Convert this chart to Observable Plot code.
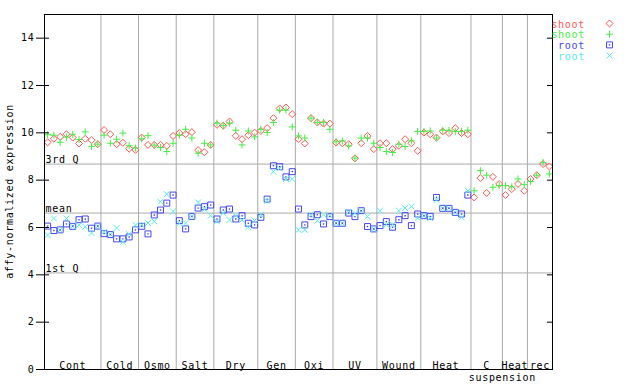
<!DOCTYPE html>
<html><head><meta charset="utf-8">
<script src="https://cdn.jsdelivr.net/npm/d3@7"></script>
<script src="https://cdn.jsdelivr.net/npm/@observablehq/plot@0.6"></script>
<style>body{margin:0;background:#fff} svg{display:block}</style>
</head><body><div id="chart"></div>
<script>
const groups = ["Cont","Cold","Osmo","Salt","Dry","Gen","Oxi","UV","Wound","Heat","C","Heat","rec"];
const groupSizes = [9,6,6,6,7,6,6,7,7,8,5,4,4];
const extraLabel = "suspension";
const yTitle = "affy-normalized expression";
const yTicks = [0,2,4,6,8,10,12,14];
const refLines = [8.68, 6.61, 4.08];
const refLabels = ["3rd Q","mean","1st Q"];
const seriesNames = ["shoot","shoot","root","root"];

const shootRep1 = [
 9.60,9.75,9.83,9.94,9.80,9.55,9.75,9.69,9.52,
 10.12,9.94,9.52,9.58,9.33,9.28,
 9.80,9.49,9.49,9.49,9.45,9.87,
 9.99,9.94,10.03,9.27,9.18,9.49,
 10.34,10.30,10.48,9.87,9.73,9.90,10.01,
 10.08,10.20,10.62,11.03,11.07,10.79,
 9.73,9.55,10.62,10.44,10.39,10.39,
 9.59,9.56,9.52,8.92,9.56,9.87,9.31,
 9.56,9.56,9.31,9.45,9.73,9.56,9.24,
 10.01,9.94,9.80,10.06,9.99,10.20,9.99,9.94,
 7.27,8.09,7.46,8.14,7.84,
 7.37,7.62,7.84,7.55,
 8.05,8.21,8.68,8.58];
const shootRep2 = [
 9.92,9.90,9.60,9.82,9.94,9.72,10.04,9.43,9.52,
 9.90,9.56,9.73,9.99,9.46,9.36,
 9.75,9.88,9.48,9.38,9.21,9.56,
 9.90,10.15,9.78,9.14,9.56,9.49,
 10.41,10.30,10.41,10.11,9.49,10.08,9.83,
 10.15,10.01,10.44,10.96,10.96,10.25,
 9.87,9.78,10.62,10.44,10.44,10.15,
 9.62,9.66,9.45,8.93,9.78,9.78,9.56,
 9.38,9.21,9.17,9.52,9.42,9.66,10.06,
 10.06,10.08,9.78,10.11,10.11,10.06,10.06,10.11,
 7.55,8.40,8.21,7.70,7.77,
 7.77,7.72,8.05,7.81,
 7.95,8.21,8.75,8.26];
const rootRep1 = [
 6.06,5.87,5.90,6.15,6.05,6.33,6.36,5.97,6.06,
 5.74,5.70,5.52,5.52,5.60,5.90,
 6.05,5.73,6.53,6.74,7.03,7.37,
 6.29,5.94,6.47,6.82,6.88,6.95,
 6.36,6.74,6.78,6.36,6.50,6.18,6.11,
 6.43,7.20,8.61,8.57,8.14,8.36,
 6.78,6.11,6.46,6.54,6.15,6.46,
 6.18,6.18,6.61,6.46,6.71,6.04,5.94,
 6.08,6.25,6.01,6.33,6.50,6.08,6.57,
 6.50,6.47,7.27,6.81,6.81,6.64,6.57,7.37];
const rootRep2 = [
 5.68,6.38,5.90,6.38,6.05,6.10,6.03,5.77,6.05,
 5.82,5.71,5.98,5.39,5.72,6.10,
 6.10,6.19,6.26,7.09,7.41,6.68,
 6.17,6.19,6.47,7.06,6.78,6.50,
 6.26,6.61,6.32,6.50,6.32,6.01,6.29,
 6.54,7.13,8.36,8.50,8.05,8.05,
 5.90,5.90,6.54,6.29,6.54,6.50,
 6.18,6.18,6.64,6.60,6.71,6.46,5.94,
 6.71,6.12,6.12,6.71,6.82,6.89,6.40,
 6.50,6.40,7.16,6.81,6.81,6.64,6.43,7.55];

const colors = ["#ff5555","#44ee44","#4646f0","#55eeee"];
const symbols = ["diamond2","plus","square2","times"];
const radii = [3.15,2.4,3.8,2.8];

const nSlots = d3.sum(groupSizes);
const bounds = Array.from(d3.cumsum(groupSizes));
const inner = bounds.slice(0,-1);
const centers = groupSizes.map((s,k) => bounds[k] - s/2);
const rows = arr => arr.map((v,i) => ({i: i + 0.5, v}));
const series = [shootRep1, shootRep2, rootRep1, rootRep2].map(rows);

const chart = Plot.plot({
  width: 640, height: 384,
  marginLeft: 44, marginRight: 88, marginTop: 14, marginBottom: 15,
  x: {domain: [0, nSlots], axis: null},
  y: {domain: [0, 15], axis: null},
  style: {fontFamily: "'DejaVu Sans Mono', monospace", fontSize: "10px", letterSpacing: "0.7px", background: "#fff", color: "#000", overflow: "visible"},
  marks: [
    Plot.ruleX(inner, {stroke: "#aaa"}),
    Plot.ruleY(refLines, {stroke: "#aaa"}),
    Plot.text(refLines, {x: 0, y: d => d, text: (d,i) => refLabels[i], textAnchor: "start", lineAnchor: "bottom", dx: 1, dy: -1, fill: "#000"}),
    Plot.text(groups, {x: (d,i) => centers[i], y: 0, text: d => d, lineAnchor: "bottom", dy: -1, fill: "#000"}),
    Plot.text([extraLabel], {x: bounds[10], y: 0, text: d => d, lineAnchor: "top", dy: 4, fill: "#000"}),
    ...series.map((s,k) => Plot.dot(s, {x: "i", y: "v", symbol: symbols[k], r: radii[k], stroke: colors[k], strokeWidth: 1, fill: "none"})),
    Plot.dot(series[2], {x: "i", y: "v", symbol: "square", r: 0.8, fill: colors[2]}),
    Plot.frame({stroke: "#000"}),
    Plot.axisY(yTicks, {anchor: "left", tickSize: 8, tickPadding: 2, label: null}),
    Plot.ruleY(yTicks, {x1: 0, x2: 0.8, stroke: "#000"}),
    Plot.ruleY(yTicks, {x1: nSlots - 0.8, x2: nSlots, stroke: "#000"})
  ]
});
document.getElementById("chart").appendChild(chart);

const svg = d3.select(chart);
svg.append("text")
  .attr("transform", "translate(13,191.5) rotate(-90)")
  .attr("text-anchor", "middle")
  .attr("fill", "#000")
  .text(yTitle);
const d3sym = {diamond2: d3.symbolDiamond2, plus: d3.symbolPlus, square2: d3.symbolSquare2, times: d3.symbolTimes};
const lg = svg.append("g");
seriesNames.forEach((name, k) => {
  lg.append("text").attr("x", 585).attr("y", 27.5 + k * 10.7)
    .attr("text-anchor", "end").attr("fill", colors[k]).text(name);
  lg.append("path").attr("transform", `translate(609.5,${23.5 + k * 10.7})`)
    .attr("d", d3.symbol(d3sym[symbols[k]], Math.PI * radii[k] * radii[k])())
    .attr("fill", "none").attr("stroke", colors[k]);
  if (k === 2) lg.append("rect").attr("x", 608.8).attr("y", 22.8 + k * 10.7).attr("width", 1.4).attr("height", 1.4).attr("fill", colors[k]);
});
</script>
</body></html>
